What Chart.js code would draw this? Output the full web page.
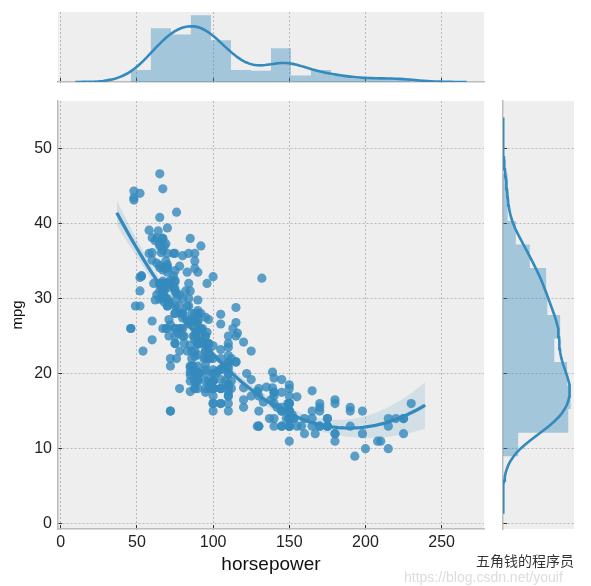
<!DOCTYPE html>
<html>
<head>
<meta charset="utf-8">
<script src="https://cdn.jsdelivr.net/npm/chart.js@4.4.1/dist/chart.umd.min.js"></script>
<style>
  html, body { margin: 0; padding: 0; background: #fff; }
  #wrap { position: relative; width: 591px; height: 586px; overflow: hidden; }
  #wrap canvas { position: absolute; left: 0; top: 0; }
  .mark { position: absolute; white-space: nowrap; }
  #url { left: 404px; top: 569px; font: 14px "Liberation Sans"; color: #dcdcdc; }
  #sign { left: 476px; top: 550px; font: 14px "Noto Sans CJK SC"; color: #333; }
</style>
</head>
<body>
<div id="wrap">
  <canvas id="top" width="591" height="586"></canvas>
  <canvas id="side" width="591" height="586"></canvas>
  <canvas id="main" width="591" height="586"></canvas>
  <div class="mark" id="url">https://blog.csdn.net/youif</div>
  <div class="mark" id="sign">五角钱的程序员</div>
</div>
<script>
// auto-mpg, rows without horsepower dropped
const horsepower = [
  130,165,150,150,140,198,220,215,225,190, 170,160,150,225,95,95,97,85,88,46,
  87,90,95,113,90,215,200,210,193,88, 90,95,100,105,100,88,100,165,175,153,
  150,180,170,175,110,72,100,88,86,90, 70,76,65,69,60,70,95,80,54,90,
  86,165,175,150,153,150,208,155,160,190, 97,150,130,140,150,112,76,87,69,86,
  92,97,80,88,175,150,145,137,150,198, 150,158,150,215,225,175,105,100,100,88,
  95,46,150,167,170,180,100,88,72,94, 90,85,107,90,145,230,49,75,91,112,
  150,110,122,180,95,100,100,67,80,65, 75,100,110,105,140,150,150,140,150,83,
  67,78,52,61,75,75,75,97,93,67, 95,105,72,72,170,145,150,148,110,105,
  110,95,110,110,129,75,83,100,78,96, 71,97,100,70,90,95,88,98,115,53,
  86,81,92,79,83,140,150,120,152,100, 105,81,90,52,60,70,53,100,78,110,
  95,71,70,75,72,102,150,88,108,120, 180,145,130,150,68,80,58,96,70,145,
  110,145,130,110,105,100,98,180,170,190, 149,78,88,75,89,63,83,67,78,97,
  110,110,48,66,52,70,60,110,140,139, 105,95,85,88,100,90,105,85,110,120,
  145,165,139,140,68,95,97,75,95,105, 85,97,103,125,115,133,71,68,115,85,
  88,90,110,130,129,138,135,155,142,125, 150,71,65,80,80,77,125,71,90,70,
  70,65,69,90,115,115,90,76,60,70, 65,90,88,90,90,78,90,75,92,75,
  65,105,65,48,48,67,67,67,67,62, 132,100,88,72,84,84,92,110,84,58,
  64,60,67,65,62,68,63,65,65,74, 75,75,100,74,80,76,116,120,110,105,
  88,85,88,88,88,85,84,90,92,74, 68,68,63,70,88,75,70,67,67,67,
  110,85,92,112,96,84,90,86,52,84, 79,82
];
const mpg = [
  18,15,18,16,17,15,14,14,14,15, 15,14,15,14,24,22,18,21,27,26,
  25,24,25,26,21,10,10,11,9,27, 28,25,19,16,17,19,18,14,14,14,
  14,12,13,13,18,22,19,18,23,28, 30,30,31,35,27,26,24,25,23,20,
  21,13,14,15,14,17,11,13,12,13, 19,15,13,13,14,18,22,21,26,22,
  28,23,28,27,13,14,13,14,15,12, 13,13,14,13,12,13,18,16,18,18,
  23,26,11,12,13,12,18,20,21,22, 18,19,21,26,15,16,29,24,20,19,
  15,24,20,11,20,19,15,31,26,32, 25,16,16,18,16,13,14,14,14,29,
  26,26,31,32,28,24,26,24,26,31, 19,18,15,15,16,15,16,14,17,16,
  15,18,21,20,13,29,23,20,23,24, 25,24,18,29,19,23,23,22,25,33,
  28,25,25,26,27,17.5,16,15.5,14.5,22, 22,24,22.5,29,24.5,29,33,20,18,18.5,
  17.5,29.5,32,28,26.5,20,13,19,19,16.5, 16.5,13,13,13,31.5,30,36,25.5,33.5,17.5,
  17,15.5,15,17.5,20.5,19,18.5,16,15.5,15.5, 16,29,24.5,26,25.5,30.5,33.5,30,30.5,22,
  21.5,21.5,43.1,36.1,32.8,39.4,36.1,19.9,19.4,20.2, 19.2,20.5,20.2,25.1,20.5,19.4,20.6,20.8,18.6,18.1,
  19.2,17.7,18.1,17.5,30,27.5,27.2,30.9,21.1,23.2, 23.8,23.9,20.3,17,21.6,16.2,31.5,29.5,21.5,19.8,
  22.3,20.2,20.6,17,17.6,16.5,18.2,16.9,15.5,19.2, 18.5,31.9,34.1,35.7,27.4,25.4,23,27.2,23.9,34.2,
  34.5,31.8,37.3,28.4,28.8,26.8,33.5,41.5,38.1,32.1, 37.2,28,26.4,24.3,19.1,34.3,29.8,31.3,37,32.2,
  46.6,27.9,40.8,44.3,43.4,36.4,30,44.6,33.8,29.8, 32.7,23.7,35,32.4,27.2,26.6,25.8,23.5,30,39.1,
  39,35.1,32.3,37,37.7,34.1,34.7,34.4,29.9,33, 33.7,32.4,32.9,31.6,28.1,30.7,25.4,24.2,22.4,26.6,
  20.2,17.6,28,27,34,31,29,27,24,36, 37,31,38,36,36,36,34,38,32,38,
  25,38,26,22,32,36,27,27,44,32, 28,31
];
const xTicks = [0, 50, 100, 150, 200, 250];
const yTicks = [0, 10, 20, 30, 40, 50];
const xRange = [-1.8, 277.8];
const yRange = [-0.7, 56.3];

const blue = '#348ABD';

function mean(a) { return a.reduce((s, v) => s + v, 0) / a.length; }
function std(a) {
  const m = mean(a);
  return Math.sqrt(a.reduce((s, v) => s + (v - m) * (v - m), 0) / (a.length - 1));
}
function quantile(a, q) {
  const s = [...a].sort((p, r) => p - r);
  const pos = (s.length - 1) * q;
  const lo = Math.floor(pos), hi = Math.ceil(pos);
  return s[lo] + (s[hi] - s[lo]) * (pos - lo);
}

// density histogram outline, Freedman-Diaconis bins like distplot
function histOutline(values) {
  const n = values.length;
  const iqr = quantile(values, 0.75) - quantile(values, 0.25);
  const h = 2 * iqr / Math.cbrt(n);
  const lo = Math.min(...values), hi = Math.max(...values);
  const bins = Math.min(Math.ceil((hi - lo) / h), 50);
  const w = (hi - lo) / bins;
  const counts = new Array(bins).fill(0);
  values.forEach(v => {
    let i = Math.floor((v - lo) / w);
    if (i >= bins) i = bins - 1;
    counts[i]++;
  });
  const pts = [[lo, 0]];
  counts.forEach((c, i) => {
    const d = c / (n * w);
    pts.push([lo + i * w, d], [lo + (i + 1) * w, d]);
  });
  pts.push([hi, 0]);
  return pts;
}

// gaussian kde, scott bandwidth, cut = 3
function kde(values) {
  const n = values.length;
  const sigma = Math.min(std(values), (quantile(values, 0.75) - quantile(values, 0.25)) / 1.349);
  const bw = 1.059 * sigma * Math.pow(n, -0.2);
  const lo = Math.min(...values) - 3 * bw, hi = Math.max(...values) + 3 * bw;
  const pts = [];
  for (let i = 0; i < 100; i++) {
    const x = lo + (hi - lo) * i / 99;
    let s = 0;
    values.forEach(v => { const z = (x - v) / bw; s += Math.exp(-0.5 * z * z); });
    pts.push([x, s / (n * bw * Math.sqrt(2 * Math.PI))]);
  }
  return pts;
}

function inv3(m) {
  const [a, b, c] = m[0], [d, e, f] = m[1], [g, h, k] = m[2];
  const A = e * k - f * h, B = -(d * k - f * g), C = d * h - e * g;
  const det = a * A + b * B + c * C;
  return [
    [A / det, -(b * k - c * h) / det, (b * f - c * e) / det],
    [B / det, (a * k - c * g) / det, -(a * f - c * d) / det],
    [C / det, -(a * h - b * g) / det, (a * e - b * d) / det]
  ];
}

// order 2 least squares fit with 95% band
function quadFit(xs, ys) {
  const mx = mean(xs), sx = std(xs);
  const row = x => { const t = (x - mx) / sx; return [1, t, t * t]; };
  const XtX = [[0,0,0],[0,0,0],[0,0,0]], Xty = [0,0,0];
  xs.forEach((x, k) => {
    const r = row(x);
    for (let i = 0; i < 3; i++) {
      Xty[i] += r[i] * ys[k];
      for (let j = 0; j < 3; j++) XtX[i][j] += r[i] * r[j];
    }
  });
  const inv = inv3(XtX);
  const beta = inv.map(r => r[0] * Xty[0] + r[1] * Xty[1] + r[2] * Xty[2]);
  const f = r => r[0] * beta[0] + r[1] * beta[1] + r[2] * beta[2];
  let ssr = 0;
  xs.forEach((x, k) => { const e = ys[k] - f(row(x)); ssr += e * e; });
  const s2 = ssr / (xs.length - 3);
  const lo = Math.min(...xs), hi = Math.max(...xs), pad = (hi - lo) * 0.05;
  const out = [];
  for (let i = 0; i < 100; i++) {
    const x = lo - pad + (hi - lo + 2 * pad) * i / 99;
    const r = row(x);
    let q = 0;
    for (let a = 0; a < 3; a++) for (let b = 0; b < 3; b++) q += r[a] * inv[a][b] * r[b];
    const ci = 1.966 * Math.sqrt(s2 * q);
    const y = f(r);
    out.push({ x, y, lo: y - ci, hi: y + ci });
  }
  return out;
}

const hpHist = histOutline(horsepower);
const hpKde = kde(horsepower);
const mpgHist = histOutline(mpg);
const mpgKde = kde(mpg);
const fit = quadFit(horsepower, mpg);

const topMax = 1.05 * Math.max(...hpHist.map(p => p[1]), ...hpKde.map(p => p[1]));
const sideMax = 1.05 * Math.max(...mpgHist.map(p => p[1]), ...mpgKde.map(p => p[1]));

const panelBg = {
  id: 'panelBg',
  beforeDraw(chart) {
    const { ctx, chartArea: a } = chart;
    ctx.save();
    ctx.fillStyle = '#eeeeee';
    ctx.fillRect(a.left, a.top, a.right - a.left, a.bottom - a.top);
    ctx.restore();
  }
};

const tickFont = { family: 'Liberation Sans', size: 16 };
const grid = { color: '#b9b9b9', lineWidth: 1, tickLength: -4, tickColor: '#333', tickWidth: 1 };
const border = { color: '#bcbcbc', width: 1.5, dash: [2, 2] };
const setTicks = list => scale => { scale.ticks = list.map(v => ({ value: v })); };
const base = {
  responsive: false,
  animation: false,
  events: [],
  plugins: { legend: { display: false }, tooltip: { enabled: false } }
};

// joint panel
new Chart(document.getElementById('main'), {
  type: 'scatter',
  data: {
    datasets: [
      { type: 'line', data: fit.map(p => ({ x: p.x, y: p.y })), borderColor: blue, borderWidth: 3.3,
        pointRadius: 0, fill: false },
      { type: 'line', data: fit.map(p => ({ x: p.x, y: p.hi })), borderWidth: 0, pointRadius: 0,
        backgroundColor: 'rgba(52,138,189,0.15)', fill: '+1' },
      { type: 'line', data: fit.map(p => ({ x: p.x, y: p.lo })), borderWidth: 0, pointRadius: 0, fill: false },
      { data: horsepower.map((h, i) => ({ x: h, y: mpg[i] })), backgroundColor: 'rgba(52,138,189,0.8)',
        borderWidth: 0, pointRadius: 4.6 }
    ]
  },
  options: {
    ...base,
    layout: { padding: { left: 0, top: 101, right: 107, bottom: 0 } },
    scales: {
      x: {
        type: 'linear', min: xRange[0], max: xRange[1],
        afterBuildTicks: setTicks(xTicks),
        afterFit: s => { s.height = 57; },
        grid, border,
        ticks: { font: tickFont, color: '#222', padding: 8, maxRotation: 0, autoSkip: false },
        title: { display: true, text: 'horsepower', color: '#111',
          font: { family: 'Liberation Sans', size: 19 }, padding: { top: 0, bottom: 10 } }
      },
      y: {
        type: 'linear', min: yRange[0], max: yRange[1],
        afterBuildTicks: setTicks(yTicks),
        afterFit: s => { s.width = 58; },
        grid, border,
        ticks: { font: tickFont, color: '#222', padding: 10, autoSkip: false },
        title: { display: true, text: 'mpg', color: '#111',
          font: { family: 'Liberation Sans', size: 15 }, padding: { top: 9, bottom: 0 } }
      }
    }
  },
  plugins: [panelBg]
});

// horsepower margin
new Chart(document.getElementById('top'), {
  type: 'scatter',
  data: {
    datasets: [
      { type: 'line', data: hpKde.map(p => ({ x: p[0], y: p[1] })), borderColor: blue, borderWidth: 2.6,
        pointRadius: 0, fill: false },
      { type: 'line', data: hpHist.map(p => ({ x: p[0], y: p[1] })), borderWidth: 0, pointRadius: 0,
        backgroundColor: 'rgba(52,138,189,0.4)', fill: 'origin' }
    ]
  },
  options: {
    ...base,
    layout: { padding: { left: 58, top: 12, right: 107, bottom: 504 } },
    scales: {
      x: {
        type: 'linear', min: xRange[0], max: xRange[1],
        afterBuildTicks: setTicks(xTicks),
        afterFit: s => { s.height = 0; },
        grid, border,
        ticks: { display: false }
      },
      y: { type: 'linear', display: false, min: 0, max: topMax }
    }
  },
  plugins: [panelBg]
});

// mpg margin
new Chart(document.getElementById('side'), {
  type: 'scatter',
  data: {
    datasets: [
      { type: 'line', data: mpgKde.map(p => ({ x: p[1], y: p[0] })), borderColor: blue, borderWidth: 2.6,
        pointRadius: 0, fill: false },
      { type: 'line', data: mpgHist.map(p => ({ x: p[1], y: p[0] })), borderWidth: 0, pointRadius: 0,
        backgroundColor: 'rgba(52,138,189,0.4)', fill: 'shape' }
    ]
  },
  options: {
    ...base,
    layout: { padding: { left: 503, top: 101, right: 17, bottom: 57 } },
    scales: {
      x: { type: 'linear', display: false, min: 0, max: sideMax },
      y: {
        type: 'linear', min: yRange[0], max: yRange[1],
        afterBuildTicks: setTicks(yTicks),
        afterFit: s => { s.width = 0; },
        grid, border,
        ticks: { display: false }
      }
    }
  },
  plugins: [panelBg]
});
</script>
</body>
</html>
